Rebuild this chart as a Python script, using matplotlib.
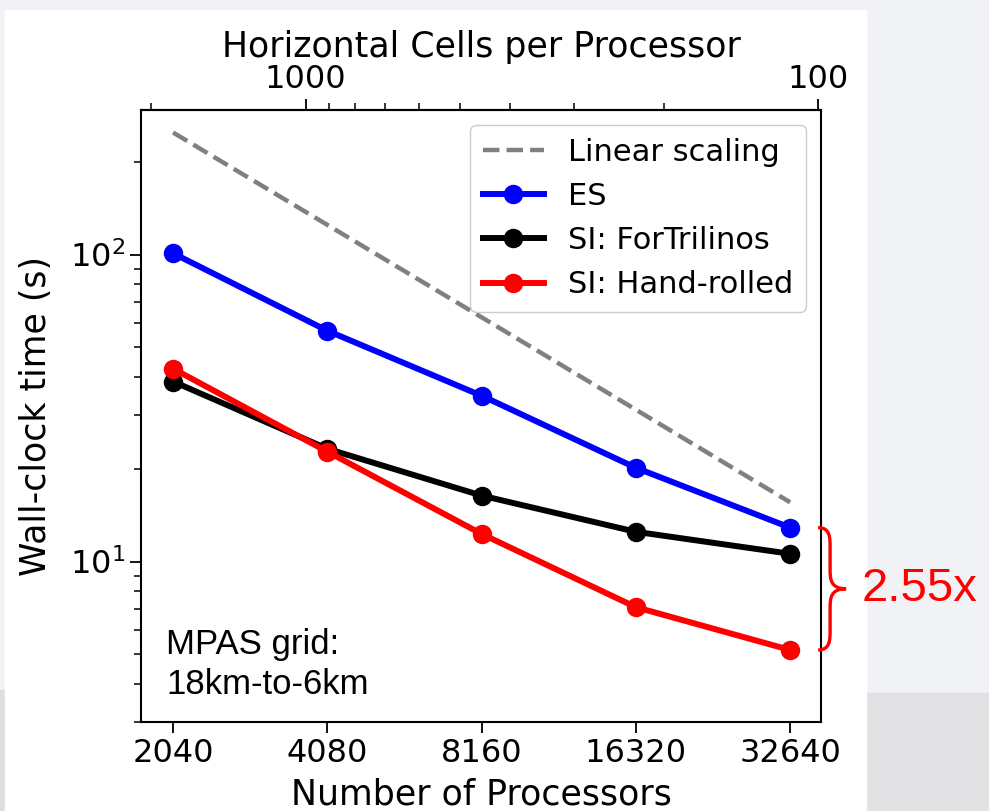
import numpy as np
import matplotlib
matplotlib.use('Agg')
import matplotlib.pyplot as plt
from matplotlib.path import Path
from matplotlib.patches import PathPatch, Rectangle
from matplotlib.transforms import IdentityTransform
from matplotlib.ticker import FixedLocator, NullLocator, FuncFormatter, NullFormatter

# Datos
procesadores = [2040, 4080, 8160, 16320, 32640]
lineal = [250, 125, 62.5, 31.25, 15.6]
es = [101, 56.5, 34.7, 20.2, 12.9]
si_fortrilinos = [38.6, 23.3, 16.4, 12.5, 10.6]
si_manual = [42.5, 22.8, 12.3, 7.1, 5.15]
celdas_totales = 3.7e6
celdas_mayores = [100, 1000]
celdas_menores = [200, 300, 400, 500, 600, 700, 800, 900, 2000]
aceleracion = '2.55x'

fig = plt.figure(figsize=(9.89, 8.11), dpi=100, facecolor='#f1f2f6')

# Fondo tipo diapositiva
fig.add_artist(Rectangle((866/989, 0), 1 - 866/989, 1 - 693/811, transform=fig.transFigure,
                         color='#e2e2e4', zorder=-9))
fig.add_artist(Rectangle((0, 0), 5/989, 1 - 690/811, transform=fig.transFigure,
                         color='#dedee0', zorder=-9))
fig.add_artist(Rectangle((5/989, 0), (866 - 5)/989, 1 - 10/811, transform=fig.transFigure,
                         color='white', zorder=-8))

ax = fig.add_axes([141/989, 1 - 722/811, 680/989, 612/811])
ax.set_facecolor('white')

ax.plot(procesadores, lineal, '--', color='gray', lw=3.2, label='Linear scaling')
ax.plot(procesadores, es, '-o', color='blue', lw=4.3, ms=13, label='ES')
ax.plot(procesadores, si_fortrilinos, '-o', color='black', lw=4.3, ms=13, label='SI: ForTrilinos')
ax.plot(procesadores, si_manual, '-o', color='red', lw=4.3, ms=13, label='SI: Hand-rolled')

ax.set_xscale('log', base=2)
ax.set_yscale('log')
ax.set_xlim(1766, 37500)
ax.set_ylim(3.0, 296)

ax.xaxis.set_major_locator(FixedLocator(procesadores))
ax.xaxis.set_major_formatter(FuncFormatter(lambda v, p: '%d' % v))
ax.xaxis.set_minor_locator(NullLocator())

ax.tick_params(axis='both', which='major', labelsize=23, length=8, width=1.3)
ax.tick_params(axis='y', which='minor', length=5, width=1.1)
for s in ax.spines.values():
    s.set_linewidth(1.5)

ax.set_xlabel('Number of Processors', fontsize=25, labelpad=6)
ax.set_ylabel('Wall-clock time (s)', fontsize=25, labelpad=12)

# Eje superior: celdas por procesador
f = lambda x: celdas_totales / np.asarray(x, dtype=float)
sec = ax.secondary_xaxis('top', functions=(f, f))
sec.xaxis.set_major_locator(FixedLocator(celdas_mayores))
sec.xaxis.set_minor_locator(FixedLocator(celdas_menores))
sec.xaxis.set_major_formatter(FuncFormatter(lambda v, p: '%d' % v))
sec.xaxis.set_minor_formatter(NullFormatter())
sec.tick_params(axis='x', which='major', labelsize=23, length=8, width=1.3, pad=3)
sec.tick_params(axis='x', which='minor', length=5, width=1.1)
sec.set_xlabel('Horizontal Cells per Processor', fontsize=25, labelpad=5)
sec.spines['top'].set_linewidth(1.5)

ax.legend(loc='upper right', fontsize=22, handlelength=2, borderpad=0.4,
          labelspacing=0.5, handletextpad=0.8, framealpha=1)

ax.text(0.037, 0.035, 'MPAS grid:\n18km-to-6km', transform=ax.transAxes,
        fontsize=25, family=['Liberation Sans', 'DejaVu Sans'], va='bottom', ha='left',
        linespacing=1.25)

# Llave roja con la aceleracion
fig.canvas.draw()
x_ult = procesadores[-1]
x_marca, y_top = ax.transData.transform((x_ult, es[-1]))
_, y_bot = ax.transData.transform((x_ult, si_manual[-1]))
x0 = x_marca + 28
xm = x0 + 12
xt = xm + 16
ymid = (y_top + y_bot) / 2
h = 10
verts = [
    (x0, y_top),
    (xm, y_top), (xm, y_top - h), (xm, y_top - 2 * h),
    (xm, ymid + 2 * h),
    (xm, ymid + h), (xm, ymid), (xt, ymid),
    (xm, ymid), (xm, ymid - h), (xm, ymid - 2 * h),
    (xm, y_bot + 2 * h),
    (xm, y_bot + h), (xm, y_bot), (x0, y_bot),
]
codes = [Path.MOVETO,
         Path.CURVE4, Path.CURVE4, Path.CURVE4,
         Path.LINETO,
         Path.CURVE4, Path.CURVE4, Path.CURVE4,
         Path.CURVE4, Path.CURVE4, Path.CURVE4,
         Path.LINETO,
         Path.CURVE4, Path.CURVE4, Path.CURVE4]
llave = PathPatch(Path(verts, codes), transform=IdentityTransform(), fill=False,
                  edgecolor='red', lw=2.4, clip_on=False)
fig.add_artist(llave)
fig.text((xt + 16) / 989, ymid / 811, aceleracion, color='red', fontsize=34,
         family=['Liberation Sans', 'DejaVu Sans'], va='center', ha='left')

fig.savefig('out.png', dpi=100, facecolor=fig.get_facecolor())
